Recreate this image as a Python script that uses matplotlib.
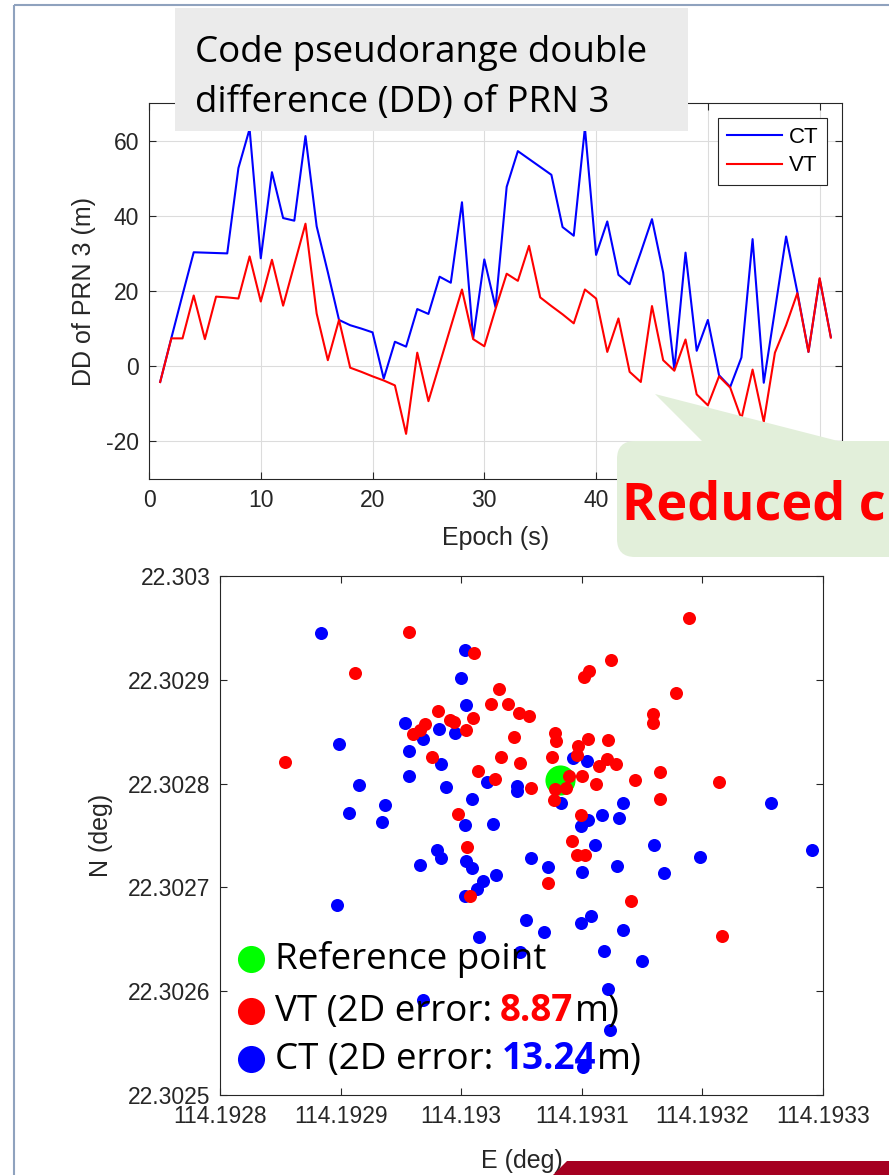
import matplotlib
matplotlib.use("Agg")
import matplotlib.pyplot as plt
from matplotlib.patches import Rectangle, FancyBboxPatch, Polygon

plt.rcParams["axes.unicode_minus"] = False

W, H, DPI = 889, 1175, 100
AX_FONT = "Liberation Sans"
SLIDE_FONT = "Open Sans"
DARK = "#262626"

# ---- panel 1: code pseudorange DD of PRN 3 ----
EPOCH = list(range(1, 62))
DD_CT = [-4.2, 7.5, 19.0, 30.3, 30.2, 30.1, 30.0, 52.7, 63.1, 28.7,
         51.6, 39.4, 38.7, 61.2, 37.2, 25.0, 12.3, 10.9, 10.0, 9.0,
         -3.3, 6.5, 5.2, 15.2, 13.9, 23.8, 22.2, 43.6, 7.4, 28.4,
         15.7, 47.7, 57.2, 55.1, 53.0, 50.9, 37.0, 34.7, 63.4, 29.6,
         38.5, 24.3, 21.8, 30.3, 39.1, 24.9, -0.9, 30.2, 4.1, 12.3,
         -2.4, -5.5, 2.3, 33.8, -4.4, 14.9, 34.5, 19.8, 3.8, 23.2, 7.8]
DD_VT = [-4.2, 7.4, 7.4, 18.8, 7.2, 18.5, 18.3, 18.0, 29.2, 17.2,
         28.3, 16.1, 27.0, 37.9, 14.0, 1.6, 12.3, -0.4, -1.5, -2.7,
         -3.8, -5.1, -18.0, 3.6, -9.3, 0.6, 10.5, 20.4, 7.2, 5.3,
         15.2, 24.6, 22.7, 32.0, 18.3, 16.0, 13.8, 11.4, 20.4, 18.0,
         3.8, 12.7, -1.5, -4.2, 16.0, 1.6, -1.2, 7.1, -7.5, -10.4,
         -2.7, -5.7, -14.0, -0.9, -14.8, 3.6, 10.9, 19.4, 3.8, 23.4, 7.6]

# ---- panel 2: positioning results (deg) ----
REF_E, REF_N = 114.193082, 22.302803
VT_E = [114.192957, 114.192912, 114.192854, 114.193011, 114.193031, 114.193025,
        114.193039, 114.193048, 114.192981, 114.192991, 114.192994, 114.193010,
        114.193004, 114.192970, 114.192966, 114.192960, 114.193044, 114.193033,
        114.192976, 114.193049, 114.193014, 114.193028, 114.192997, 114.193189,
        114.193124, 114.193106, 114.193102, 114.193178, 114.193159, 114.193159,
        114.193056, 114.193078, 114.193079, 114.193105, 114.193122, 114.193097,
        114.193096, 114.193075, 114.193121, 114.193114, 114.193128, 114.193165,
        114.193089, 114.193100, 114.193144, 114.193214, 114.193112, 114.193058,
        114.193087, 114.193078, 114.193077, 114.193165, 114.193099, 114.193092,
        114.193096, 114.193103, 114.193072, 114.193141, 114.193216, 114.193005,
        114.193007]
VT_N = [22.302946, 22.302907, 22.302821, 22.302926, 22.302891, 22.302877,
        22.302877, 22.302868, 22.302870, 22.302861, 22.302859, 22.302863,
        22.302852, 22.302857, 22.302852, 22.302848, 22.302845, 22.302826,
        22.302826, 22.302820, 22.302812, 22.302804, 22.302771, 22.302960,
        22.302919, 22.302908, 22.302903, 22.302887, 22.302867, 22.302858,
        22.302865, 22.302849, 22.302841, 22.302843, 22.302842, 22.302836,
        22.302828, 22.302826, 22.302824, 22.302817, 22.302819, 22.302811,
        22.302807, 22.302807, 22.302803, 22.302802, 22.302800, 22.302796,
        22.302796, 22.302795, 22.302784, 22.302785, 22.302770, 22.302745,
        22.302731, 22.302731, 22.302704, 22.302687, 22.302653, 22.302739,
        22.302692]
CT_E = [114.192884, 114.193003, 114.193000, 114.193004, 114.192953, 114.192982,
        114.192995, 114.192968, 114.192899, 114.192957, 114.192983, 114.192957,
        114.192915, 114.192987, 114.193021, 114.193046, 114.193046, 114.193009,
        114.192937, 114.192907, 114.192934, 114.193003, 114.193026, 114.193093,
        114.193104, 114.193083, 114.193134, 114.193257, 114.193117, 114.193131,
        114.193105, 114.193099, 114.192980, 114.192983, 114.192966, 114.193004,
        114.193009, 114.193029, 114.193018, 114.193013, 114.193003, 114.192897,
        114.193015, 114.192968, 114.193049, 114.193111, 114.193160, 114.193291,
        114.193058, 114.193072, 114.193100, 114.193129, 114.193198, 114.193168,
        114.193054, 114.193069, 114.193099, 114.193108, 114.193134, 114.193118,
        114.193150, 114.193122, 114.193123, 114.193101]
CT_N = [22.302945, 22.302929, 22.302902, 22.302876, 22.302858, 22.302853,
        22.302849, 22.302843, 22.302838, 22.302831, 22.302819, 22.302807,
        22.302799, 22.302797, 22.302802, 22.302798, 22.302793, 22.302785,
        22.302779, 22.302772, 22.302763, 22.302760, 22.302761, 22.302825,
        22.302822, 22.302781, 22.302781, 22.302781, 22.302770, 22.302767,
        22.302765, 22.302759, 22.302736, 22.302728, 22.302722, 22.302725,
        22.302719, 22.302712, 22.302706, 22.302698, 22.302692, 22.302683,
        22.302652, 22.302592, 22.302638, 22.302741, 22.302741, 22.302736,
        22.302728, 22.302720, 22.302715, 22.302721, 22.302729, 22.302714,
        22.302669, 22.302657, 22.302666, 22.302672, 22.302659, 22.302639,
        22.302629, 22.302602, 22.302563, 22.302527]
E_TICKS = [114.1928, 114.1929, 114.1930, 114.1931, 114.1932, 114.1933]
E_LABELS = ["114.1928", "114.1929", "114.193", "114.1931", "114.1932", "114.1933"]
N_TICKS = [22.3025, 22.3026, 22.3027, 22.3028, 22.3029, 22.3030]
N_LABELS = ["22.3025", "22.3026", "22.3027", "22.3028", "22.3029", "22.303"]
VT_ERR, CT_ERR = "8.87", "13.24"


def matlab_axes(ax):
    for sp in ax.spines.values():
        sp.set_color(DARK)
        sp.set_linewidth(0.8)
    ax.tick_params(direction="in", top=True, right=True, length=5, width=0.8,
                   colors=DARK, labelsize=16.5, pad=7)
    for lab in ax.get_xticklabels() + ax.get_yticklabels():
        lab.set_family(AX_FONT)


fig = plt.figure(figsize=(W / DPI, H / DPI), dpi=DPI)

# ------ top: DD time series ------
ax1 = fig.add_axes([149 / W, 1 - 479 / H, 693 / W, 376 / H])
ax1.plot(EPOCH, DD_CT, color="#0000FF", lw=1.5, label="CT")
ax1.plot(EPOCH, DD_VT, color="#FF0000", lw=1.5, label="VT")
ax1.set_xlim(0, 62)
ax1.set_ylim(-30, 70)
ax1.set_xticks(range(0, 61, 10))
ax1.set_yticks(range(-20, 61, 20))
ax1.grid(color="#dcdcdc", lw=0.8)
ax1.set_axisbelow(True)
matlab_axes(ax1)
# the labels at 50 and 60 sit under the callout box on the slide
for lab in ax1.get_xticklabels()[-2:]:
    lab.set_visible(False)
ax1.set_xlabel("Epoch (s)", family=AX_FONT, fontsize=18, color=DARK)
ax1.set_ylabel("DD of PRN 3 (m)", family=AX_FONT, fontsize=18, color=DARK)
ax1.xaxis.set_label_coords(0.5, -0.125)
ax1.yaxis.set_label_coords(-0.077, 0.5)
leg = ax1.legend(loc="upper right", bbox_to_anchor=(0.979, 0.961), borderaxespad=0,
                 fancybox=False, framealpha=1, edgecolor=DARK, handlelength=2.5,
                 handletextpad=0.3, borderpad=0.4, labelspacing=0.35,
                 prop={"family": AX_FONT, "size": 16})
leg.get_frame().set_linewidth(0.8)

# ------ bottom: positioning scatter ------
ax2 = fig.add_axes([220 / W, 1 - 1095 / H, 603 / W, 519 / H])
ax2.scatter([REF_E], [REF_N], s=470, color="#00FF00", linewidths=0, zorder=2)
ax2.scatter(CT_E, CT_N, s=88, color="#0000FF", linewidths=0, zorder=3)
ax2.scatter(VT_E, VT_N, s=88, color="#FF0000", linewidths=0, zorder=4)
ax2.set_xlim(E_TICKS[0], E_TICKS[-1])
ax2.set_ylim(N_TICKS[0], N_TICKS[-1])
ax2.set_xticks(E_TICKS)
ax2.set_xticklabels(E_LABELS)
ax2.set_yticks(N_TICKS)
ax2.set_yticklabels(N_LABELS)
matlab_axes(ax2)
ax2.set_xlabel("E (deg)", family=AX_FONT, fontsize=18, color=DARK)
ax2.set_ylabel("N (deg)", family=AX_FONT, fontsize=18, color=DARK)
ax2.xaxis.set_label_coords(0.5, -0.104)
ax2.yaxis.set_label_coords(-0.178, 0.5)

# ------ slide decorations, in pixel units ------
ov = fig.add_axes([0, 0, 1, 1], zorder=5)
ov.set_xlim(0, W)
ov.set_ylim(H, 0)
ov.axis("off")

ov.plot([14, W], [5, 5], color="#8FA2BE", lw=1.5, solid_capstyle="butt")
ov.plot([14, 14], [5, H], color="#8FA2BE", lw=1.5, solid_capstyle="butt")

ov.add_patch(Rectangle((175, 8), 513, 123, facecolor="#EBEBEB", edgecolor="none"))
ov.text(195, 62, "Code pseudorange double", family=SLIDE_FONT, fontsize=26.5,
        va="baseline", color="black")
ov.text(195, 112, "difference (DD) of PRN 3", family=SLIDE_FONT, fontsize=26.5,
        va="baseline", color="black")

callout = "#E2EFDA"
ov.add_patch(Polygon([(655, 394), (703, 442), (842, 442)], closed=True,
                     facecolor=callout, edgecolor="none"))
ov.add_patch(FancyBboxPatch((617, 441), 320, 116, boxstyle="round,pad=0,rounding_size=18",
                            facecolor=callout, edgecolor="none"))
ov.text(622, 519, "Reduced c", family=SLIDE_FONT, fontsize=37.5, weight="bold",
        color="#FF0000", va="baseline")

ov.add_patch(Polygon([(567, 1161), (W, 1161), (W, H), (553, H)], closed=True,
                     facecolor="#A50021", edgecolor="none"))

# legend of the scatter panel, mixed colours
rend = fig.canvas.get_renderer()
LEG_X = 275
rows = [(969, "#00FF00", "Reference point", None, None),
        (1021, "#FF0000", "VT (2D error:", VT_ERR, "#FF0000"),
        (1069, "#0000FF", "CT (2D error:", CT_ERR, "#0000FF")]
for base, mcol, head, num, ncol in rows:
    ov.plot([251], [base - 10], "o", ms=19.5, color=mcol, mew=0)
    t = ov.text(LEG_X, base, head, family=SLIDE_FONT, fontsize=26.5, va="baseline")
    if num is None:
        continue
    x = LEG_X + t.get_window_extent(rend).width + 8
    t2 = ov.text(x, base, num, family=SLIDE_FONT, fontsize=26.5, weight="bold",
                 color=ncol, va="baseline")
    x += t2.get_window_extent(rend).width + 1
    ov.text(x, base, "m)", family=SLIDE_FONT, fontsize=26.5, va="baseline")

fig.savefig("out.png", dpi=DPI)
